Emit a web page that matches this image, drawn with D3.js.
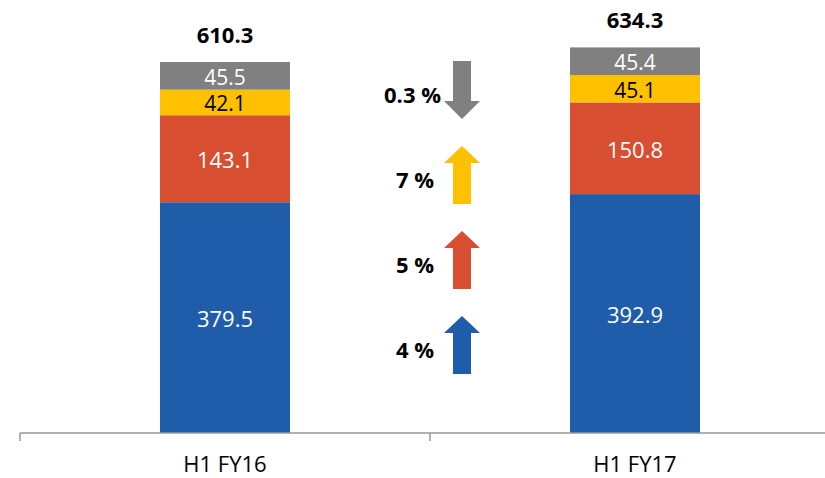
<!DOCTYPE html>
<html lang="en">
  <head>
    <meta charset="UTF-8" />
    <title>H1 FY16 vs H1 FY17</title>
    <script src="https://d3js.org/d3.v7.min.js"></script>
    <style>
      body { margin: 0; background: #fff; }
      text { font-family: 'Open Sans', 'Liberation Sans', sans-serif; }
    </style>
  </head>
  <body>
    <svg width="825" height="478"></svg>

    <script>
      // Data
      const categories = ['H1 FY16', 'H1 FY17'];
      const segments = ['blue', 'red', 'yellow', 'gray'];
      const blueValues = [379.5, 392.9];
      const redValues = [143.1, 150.8];
      const yellowValues = [42.1, 45.1];
      const grayValues = [45.5, 45.4];
      const totals = [610.3, 634.3];
      const growthLabels = ['0.3 %', '7 %', '5 %', '4 %'];
      const growthSegments = ['gray', 'yellow', 'red', 'blue'];
      const growthUp = [false, true, true, true];

      const colors = { blue: '#1f5ca9', red: '#d84e30', yellow: '#ffc000', gray: '#808080' };
      const textColors = { blue: '#fff', red: '#fff', yellow: '#000', gray: '#fff' };

      const svg = d3.select('svg');

      const rows = categories.map((c, i) => ({
        cat: c,
        blue: blueValues[i],
        red: redValues[i],
        yellow: yellowValues[i],
        gray: grayValues[i],
        total: totals[i],
      }));

      const x = d3.scaleBand().domain(categories).range([20, 840]).paddingInner(0.683).paddingOuter(0.3415);
      const y = d3.scaleLinear().domain([0, 700]).range([433, 433 - 700 * 0.608]);

      const stack = d3.stack().keys(segments)(rows);

      // Bars
      const layer = svg.selectAll('.layer').data(stack).enter().append('g').attr('class', 'layer');
      layer
        .selectAll('rect')
        .data((s) => s.map((d) => ({ key: s.key, d })))
        .enter()
        .append('rect')
        .attr('x', (p) => x(p.d.data.cat))
        .attr('width', x.bandwidth())
        .attr('y', (p) => y(p.d[1]))
        .attr('height', (p) => y(p.d[0]) - y(p.d[1]))
        .attr('fill', (p) => colors[p.key]);

      // small segments get a slightly smaller label so they fit
      layer
        .selectAll('text')
        .data((s) => s.map((d) => ({ key: s.key, d })))
        .enter()
        .append('text')
        .attr('x', (p) => x(p.d.data.cat) + x.bandwidth() / 2)
        .attr('y', (p) => (y(p.d[0]) + y(p.d[1])) / 2)
        .attr('dy', '0.42em')
        .attr('text-anchor', 'middle')
        .attr('font-size', (p) => (y(p.d[0]) - y(p.d[1]) < 35 ? 21 : 22))
        .attr('fill', (p) => textColors[p.key])
        .text((p) => p.d.data[p.key].toFixed(1));

      // Totals
      svg
        .selectAll('.total')
        .data(rows)
        .enter()
        .append('text')
        .attr('class', 'total')
        .attr('x', (d) => x(d.cat) + x.bandwidth() / 2)
        .attr('y', (d) => y(d.total) - 19)
        .attr('text-anchor', 'middle')
        .attr('font-size', 22)
        .attr('font-weight', 'bold')
        .text((d) => d.total.toFixed(1));

      // Axis
      const axis = svg.append('g').attr('transform', 'translate(0,433)');
      axis.append('line').attr('x1', 20).attr('x2', 825).attr('stroke', '#999').attr('stroke-width', 1.5);
      const boundaries = [x.range()[0], x.range()[0] + x.step()];
      axis
        .selectAll('.tick')
        .data(boundaries)
        .enter()
        .append('line')
        .attr('x1', (d) => d)
        .attr('x2', (d) => d)
        .attr('y1', 0)
        .attr('y2', 8)
        .attr('stroke', '#999')
        .attr('stroke-width', 1.5);
      axis
        .selectAll('.cat')
        .data(categories)
        .enter()
        .append('text')
        .attr('x', (d) => x(d) + x.bandwidth() / 2)
        .attr('y', 39)
        .attr('text-anchor', 'middle')
        .attr('font-size', 22)
        .attr('fill', '#000')
        .text((d) => d);

      // Growth arrows
      const arrowRow = d3.scaleBand().domain(growthLabels).range([61, 374]).paddingInner(0.318).paddingOuter(0);
      const ax = 462;
      const arrowG = svg
        .selectAll('.arrow')
        .data(growthLabels)
        .enter()
        .append('g')
        .attr('class', 'arrow')
        .attr('transform', (d) => `translate(0,${arrowRow(d)})`);

      arrowG
        .append('path')
        .attr('fill', (d, i) => colors[growthSegments[i]])
        .attr('d', (d, i) => {
          const h = arrowRow.bandwidth();
          if (growthUp[i]) {
            return `M${ax},0 L${ax + 18},17 L${ax + 9},17 L${ax + 9},${h} L${ax - 9},${h} L${ax - 9},17 L${ax - 18},17 Z`;
          }
          return `M${ax - 9},0 L${ax + 9},0 L${ax + 9},${h - 18} L${ax + 18},${h - 18} L${ax},${h} L${ax - 18},${h - 18} L${ax - 9},${h - 18} Z`;
        });

      arrowG
        .append('text')
        .attr('x', (d, i) => (i === 0 ? 441 : 434))
        .attr('y', 42)
        .attr('text-anchor', 'end')
        .attr('font-size', 22)
        .attr('font-weight', 'bold')
        .text((d) => d);
    </script>
  </body>
</html>
